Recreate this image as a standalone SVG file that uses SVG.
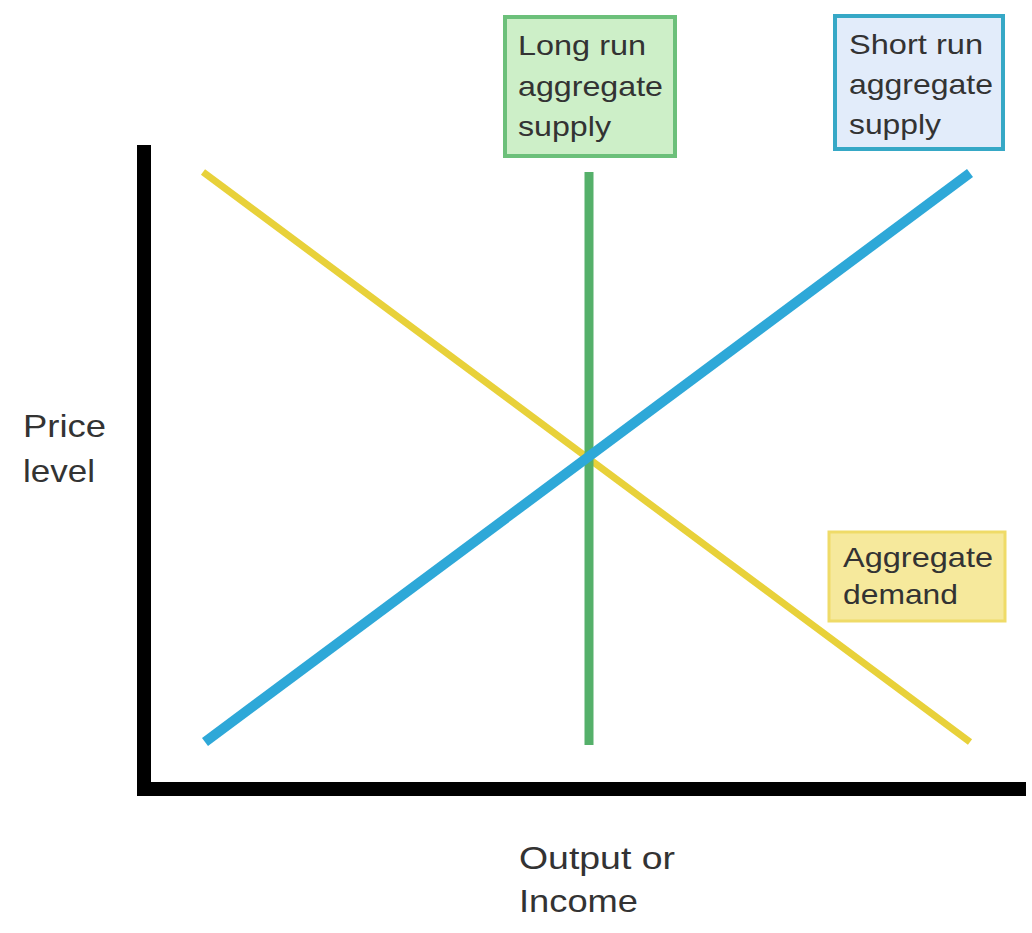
<svg xmlns="http://www.w3.org/2000/svg" width="1032" height="933" viewBox="0 0 1032 933">
<style>
text{font-family:"Liberation Sans",Arial,sans-serif;font-size:28px;fill:#333}
.ax{font-size:32px}
.ln{fill:none;stroke-linecap:butt}
</style>
<rect width="1032" height="933" fill="#fff"/>
<g id="axes">
<path d="M144 145 V789 H1026" fill="none" stroke="#000" stroke-width="14"/>
</g>
<g id="connectors">
<line class="ln" x1="203" y1="172" x2="970" y2="742" stroke="#e8d13a" stroke-width="7"/>
<line class="ln" x1="589" y1="172" x2="589" y2="745" stroke="#55b06a" stroke-width="9"/>
<line class="ln" x1="205" y1="742" x2="970" y2="173" stroke="#2ea8d8" stroke-width="10"/>
</g>
<g id="lras">
<rect x="505" y="17" width="170" height="139" fill="#cdefc8" stroke="#6cc07a" stroke-width="4"/>
<text x="518" y="55" textLength="128" lengthAdjust="spacingAndGlyphs">Long run</text>
<text x="518" y="96" textLength="145" lengthAdjust="spacingAndGlyphs">aggregate</text>
<text x="518" y="136" textLength="93" lengthAdjust="spacingAndGlyphs">supply</text>
</g>
<g id="sras">
<rect x="835" y="16" width="168" height="133" fill="#e2ecfa" stroke="#36a8c6" stroke-width="4"/>
<text x="849" y="54" textLength="134" lengthAdjust="spacingAndGlyphs">Short run</text>
<text x="849" y="94" textLength="144" lengthAdjust="spacingAndGlyphs">aggregate</text>
<text x="849" y="134" textLength="92" lengthAdjust="spacingAndGlyphs">supply</text>
</g>
<g id="ad">
<rect x="829" y="532" width="176" height="89" fill="#f6e99c" stroke="#efdb68" stroke-width="3"/>
<text x="843" y="567" textLength="150" lengthAdjust="spacingAndGlyphs">Aggregate</text>
<text x="843" y="604" textLength="115" lengthAdjust="spacingAndGlyphs">demand</text>
</g>
<g id="ylabel">
<text class="ax" x="23" y="437" textLength="83" lengthAdjust="spacingAndGlyphs">Price</text>
<text class="ax" x="23" y="482" textLength="72" lengthAdjust="spacingAndGlyphs">level</text>
</g>
<g id="xlabel">
<text class="ax" x="519" y="869" textLength="156" lengthAdjust="spacingAndGlyphs">Output or</text>
<text class="ax" x="519" y="912" textLength="119" lengthAdjust="spacingAndGlyphs">Income</text>
</g>
</svg>
